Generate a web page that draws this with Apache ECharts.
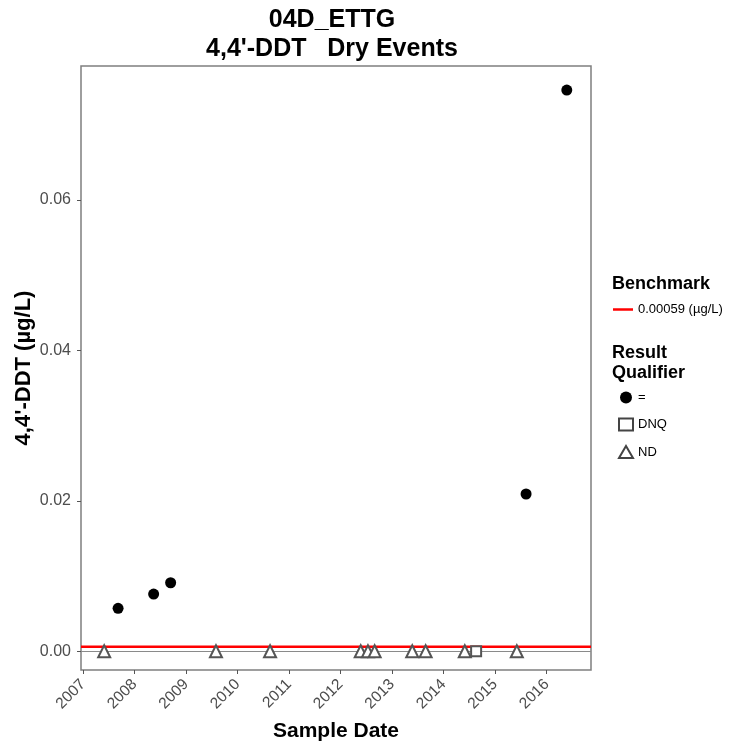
<!DOCTYPE html>
<html>
<head>
<meta charset="utf-8">
<script src="https://cdn.jsdelivr.net/npm/echarts@6/dist/echarts.min.js"></script>
<style>
  html, body { margin: 0; padding: 0; background: #fff; }
  #chart { width: 729px; height: 746px; }
</style>
</head>
<body>
<div id="chart"></div>
<script>
// 数据：从图上读取 (年份为小数年)
var yearTicks = [2007, 2008, 2009, 2010, 2011, 2012, 2013, 2014, 2015, 2016];
var yTicks = [0, 0.02, 0.04, 0.06];
var xLimits = [2006.96, 2016.86];
var yLimits = [-0.0025, 0.0778];

var benchmarkValue = 0.00059;

var detectDates = [2007.68, 2008.37, 2008.70, 2015.60, 2016.39];
var detectValues = [0.0057, 0.0076, 0.0091, 0.0209, 0.0746];

var dnqDates = [2014.63];
var dnqValues = [0];

var ndDates = [2007.41, 2009.58, 2010.63, 2012.39, 2012.53, 2012.66, 2013.39, 2013.65, 2014.41, 2015.42];
var ndValues = [0, 0, 0, 0, 0, 0, 0, 0, 0, 0];

function pairs(xs, ys) {
	var out = [];
	for (var i = 0; i < xs.length; i++) {
		out.push([xs[i], ys[i]]);
	}
	return out;
}

var FONT = 'Liberation Sans, Arial, sans-serif';
var benchName = '0.00059 (µg/L)';

var myChart = echarts.init(document.getElementById('chart'));
var option = {
	backgroundColor: '#fff',
	animation: false,
	textStyle: { fontFamily: FONT },
	title: [{
		text: '04D_ETTG\n4,4\'-DDT   Dry Events',
		left: 327,
		top: 1,
		textAlign: 'center',
		textStyle: { fontFamily: FONT, fontSize: 25, fontWeight: 'bold', color: '#000', lineHeight: 29 }
	}, {
		text: 'Benchmark',
		left: 607,
		top: 270,
		textStyle: { fontFamily: FONT, fontSize: 18, fontWeight: 'bold', color: '#000' }
	}, {
		text: 'Result\nQualifier',
		left: 607,
		top: 338,
		textStyle: { fontFamily: FONT, fontSize: 18, fontWeight: 'bold', color: '#000', lineHeight: 20 }
	}],
	grid: {
		left: 81,
		right: 138,
		top: 66,
		bottom: 76,
		outerBoundsMode: 'none',
		containLabel: false,
		show: true,
		borderColor: '#7f7f7f',
		borderWidth: 1.5,
		backgroundColor: '#fff'
	},
	legend: [{
		orient: 'vertical',
		left: 613,
		top: 303,
		padding: 0,
		itemWidth: 20,
		itemHeight: 2.5,
		selectedMode: false,
		data: [{ name: benchName, icon: 'rect', itemStyle: { color: '#ff0000' } }],
		textStyle: { fontFamily: FONT, fontSize: 13, color: '#000' }
	}, {
		orient: 'vertical',
		left: 618,
		top: 391,
		padding: 0,
		itemWidth: 14,
		itemHeight: 12,
		itemGap: 13.5,
		selectedMode: false,
		data: [
			{ name: '=', icon: 'circle', itemStyle: { color: '#000', borderWidth: 0, opacity: 1 } },
			{ name: 'DNQ', icon: 'emptyRect', itemStyle: { color: '#444', borderColor: '#444', borderWidth: 1 } },
			{ name: 'ND', icon: 'emptyTriangle', itemStyle: { color: '#444', borderColor: '#444', borderWidth: 1 } }
		],
		textStyle: { fontFamily: FONT, fontSize: 13, color: '#000' }
	}],
	xAxis: {
		type: 'value',
		min: xLimits[0],
		max: xLimits[1],
		name: 'Sample Date',
		nameLocation: 'middle',
		nameGap: 51,
		nameMoveOverlap: false,
		nameTextStyle: { fontFamily: FONT, fontSize: 21, fontWeight: 'bold', color: '#000' },
		axisLine: { show: false, onZero: false },
		axisTick: { show: true, length: 4, customValues: yearTicks, lineStyle: { color: '#555' } },
		splitLine: { show: false },
		axisLabel: {
			customValues: yearTicks,
			rotate: 45,
			margin: 12,
			fontSize: 15.5,
			color: '#4d4d4d',
			fontFamily: FONT,
			formatter: function(v) { return String(Math.round(v)); }
		}
	},
	yAxis: {
		type: 'value',
		min: yLimits[0],
		max: yLimits[1],
		name: '4,4\'-DDT (µg/L)',
		nameLocation: 'middle',
		nameGap: 46,
		nameMoveOverlap: false,
		nameTextStyle: { fontFamily: FONT, fontSize: 22, fontWeight: 'bold', color: '#000' },
		axisLine: { show: false, onZero: false },
		axisTick: { show: true, length: 4, customValues: yTicks, lineStyle: { color: '#555' } },
		splitLine: { show: false },
		axisLabel: {
			customValues: yTicks,
			margin: 10,
			fontSize: 16,
			color: '#4d4d4d',
			fontFamily: FONT,
			formatter: function(v) { return v.toFixed(2); }
		}
	},
	series: [{
		name: benchName,
		type: 'line',
		symbol: 'none',
		silent: true,
		z: 3,
		data: [[xLimits[0], benchmarkValue], [xLimits[1], benchmarkValue]],
		lineStyle: { color: '#ff0000', width: 2.5 },
		itemStyle: { color: '#ff0000' },
		markLine: {
			silent: true,
			symbol: 'none',
			label: { show: false },
			lineStyle: { color: '#8a8a8a', width: 1, type: 'solid' },
			data: [{ yAxis: 0 }]
		}
	}, {
		name: '=',
		type: 'scatter',
		symbol: 'circle',
		symbolSize: 11,
		z: 5,
		data: pairs(detectDates, detectValues),
		itemStyle: { color: '#000', opacity: 1 }
	}, {
		name: 'DNQ',
		type: 'scatter',
		symbol: 'emptyRect',
		symbolSize: 10,
		z: 5,
		data: pairs(dnqDates, dnqValues),
		itemStyle: { color: '#555', borderColor: '#555', borderWidth: 1, opacity: 1 }
	}, {
		name: 'ND',
		type: 'scatter',
		symbol: 'emptyTriangle',
		symbolSize: 12,
		z: 5,
		data: pairs(ndDates, ndValues),
		itemStyle: { color: '#555', borderColor: '#555', borderWidth: 1, opacity: 1 }
	}]
};
myChart.setOption(option);
</script>
</body>
</html>
